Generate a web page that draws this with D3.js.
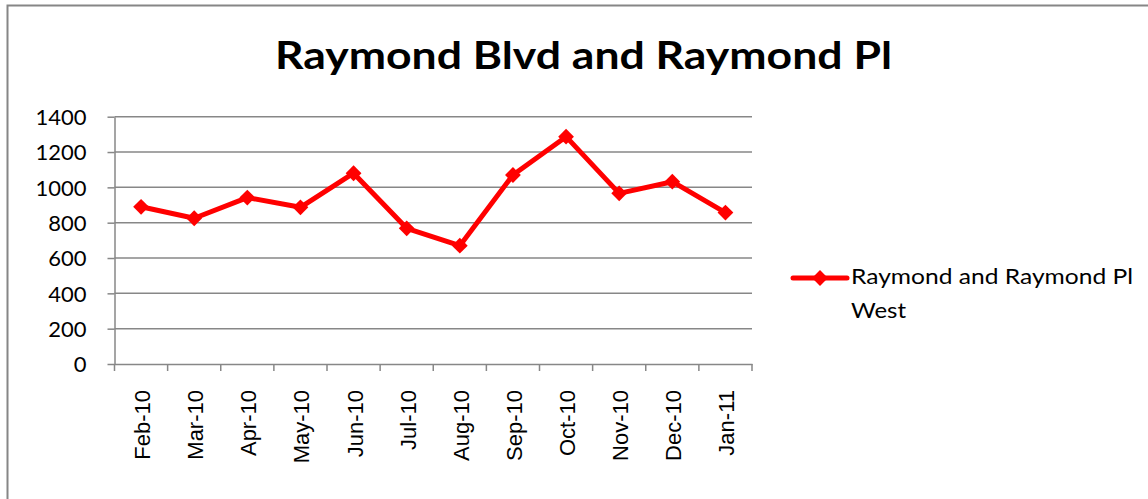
<!DOCTYPE html>
<html><head><meta charset="utf-8">
<script src="https://cdn.jsdelivr.net/npm/d3@7"></script>
<style>
html,body{margin:0;padding:0;background:#fff;}
svg{display:block;}
text{font-family:Lato,"Open Sans",sans-serif;fill:#000;}
text.lbl{font-family:"Liberation Sans",Arial,sans-serif;}
</style></head>
<body>
<svg id="chart" width="1148" height="499"></svg>
<script>
const title = "Raymond Blvd and Raymond Pl";
const categories = ["Feb-10","Mar-10","Apr-10","May-10","Jun-10","Jul-10","Aug-10","Sep-10","Oct-10","Nov-10","Dec-10","Jan-11"];
const seriesName = ["Raymond and Raymond Pl", "West"];
const values = [890, 825, 942, 887, 1080, 768, 670, 1070, 1287, 966, 1032, 857];
const yTicks = [0, 200, 400, 600, 800, 1000, 1200, 1400];

const svg = d3.select("#chart");
const gridColor = "#878787";
const red = "#ff0000";

// outer border
svg.append("rect").attr("x", 7.5).attr("y", 5.5).attr("width", 1148).attr("height", 499)
  .attr("fill", "none").attr("stroke", "#868686").attr("stroke-width", 2);

const pLeft = 114.5, pRight = 752, pTop = 116.7, pBottom = 364;
const x = d3.scaleBand().domain(categories).range([pLeft, pRight]);
const y = d3.scaleLinear().domain([0, 1400]).range([pBottom, pTop]);

// title
svg.append("text").attr("x", 583.5).attr("y", 69).attr("text-anchor", "middle")
  .attr("font-size", 38).attr("font-weight", "bold")
  .attr("textLength", 617).attr("lengthAdjust", "spacingAndGlyphs").text(title);

// gridlines
svg.append("g").selectAll("line").data(yTicks.filter(d => d > 0)).join("line")
  .attr("x1", pLeft).attr("x2", pRight)
  .attr("y1", d => y(d)).attr("y2", d => y(d))
  .attr("stroke", gridColor).attr("stroke-width", 1.5);

// y axis
const yAxis = svg.append("g").attr("transform", `translate(${pLeft},0)`)
  .call(d3.axisLeft(y).tickValues(yTicks).tickFormat(d3.format("d")).tickSize(7).tickPadding(21).tickSizeOuter(0));
yAxis.select(".domain").attr("stroke", gridColor).attr("stroke-width", 1.5);
yAxis.selectAll(".tick line").attr("stroke", gridColor).attr("stroke-width", 1.5);
yAxis.selectAll("text").attr("font-size", 22).attr("fill", "#000").attr("dy", "0.36em");

// x axis
const xAxis = svg.append("g").attr("transform", `translate(0,${pBottom})`)
  .call(d3.axisBottom(x).tickSize(0).tickSizeOuter(0));
xAxis.select(".domain").attr("stroke", gridColor).attr("stroke-width", 1.5);
xAxis.selectAll(".tick text").remove();
const bounds = categories.map(c => x(c)).concat([pRight]);
xAxis.selectAll(".bt").data(bounds).join("line").attr("class", "bt")
  .attr("x1", d => d).attr("x2", d => d).attr("y1", 0).attr("y2", 7)
  .attr("stroke", gridColor).attr("stroke-width", 1.5);
xAxis.selectAll(".lbl").data(categories).join("text").attr("class", "lbl")
  .attr("transform", d => `translate(${x(d) + x.bandwidth()/2 + 9},${26}) rotate(-90)`)
  .attr("text-anchor", "end").attr("font-size", 22).text(d => d);

// line
const cx = d => x(d) + x.bandwidth() / 2;
const line = d3.line().x((d, i) => cx(categories[i])).y(d => y(d));
svg.append("path").datum(values).attr("d", line)
  .attr("fill", "none").attr("stroke", red).attr("stroke-width", 5).attr("stroke-linejoin", "round");

const diamond = d3.symbol().type(d3.symbolSquare).size(125);
svg.append("g").selectAll("path").data(values).join("path")
  .attr("d", diamond).attr("transform", (d, i) => `translate(${cx(categories[i])},${y(d)}) rotate(45)`)
  .attr("fill", red);

// legend
const lg = svg.append("g");
lg.append("line").attr("x1", 793).attr("x2", 847).attr("y1", 278).attr("y2", 278)
  .attr("stroke", red).attr("stroke-width", 5).attr("stroke-linecap", "round");
lg.append("path").attr("d", diamond).attr("transform", "translate(820,278) rotate(45)").attr("fill", red);
lg.append("text").attr("x", 851).attr("y", 284).attr("font-size", 22)
  .attr("textLength", 282).attr("lengthAdjust", "spacingAndGlyphs").text(seriesName[0]);
lg.append("text").attr("x", 851).attr("y", 318).attr("font-size", 22)
  .attr("textLength", 55).attr("lengthAdjust", "spacingAndGlyphs").text(seriesName[1]);
</script>
</body></html>
